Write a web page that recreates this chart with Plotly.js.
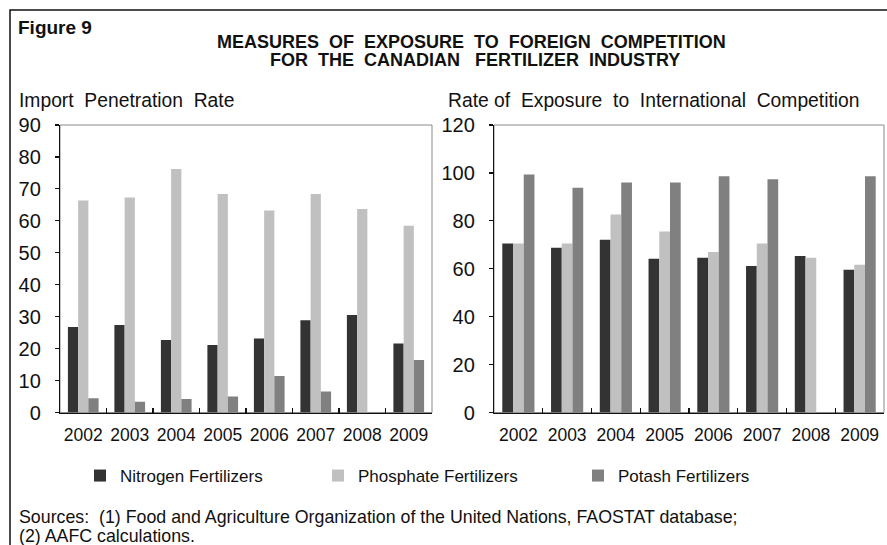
<!DOCTYPE html>
<html>
<head>
<meta charset="utf-8">
<script src="https://cdn.plot.ly/plotly-3.0.1.min.js"></script>
<style>html,body{margin:0;padding:0;background:#fff;}#chart{width:887px;height:545px;}</style>
</head>
<body>
<div id="chart"></div>
<script>
const years = ['2002','2003','2004','2005','2006','2007','2008','2009'];
const seriesNames = ['Nitrogen Fertilizers','Phosphate Fertilizers','Potash Fertilizers'];

// Import Penetration Rate (left panel)
const importNitrogen  = [26.8, 27.4, 22.7, 21.1, 23.2, 28.9, 30.5, 21.6];
const importPhosphate = [66.4, 67.3, 76.2, 68.4, 63.2, 68.4, 63.7, 58.5];
const importPotash    = [4.5, 3.4, 4.2, 5.0, 11.4, 6.6, null, 16.4];

// Rate of Exposure to International Competition (right panel)
const exposureNitrogen  = [70.5, 68.8, 72.1, 64.2, 64.6, 61.1, 65.3, 59.6];
const exposurePhosphate = [70.5, 70.5, 82.6, 75.6, 67.0, 70.5, 64.6, 61.7];
const exposurePotash    = [99.3, 93.8, 96.0, 96.0, 98.6, 97.4, null, 98.6];

const colors = ['#333333', '#c0c0c0', '#808080'];
const W = 887, H = 545;
const px = x => x / W;
const py = y => 1 - y / H;
const FONT = 'Liberation Sans, Arial, sans-serif';
const TXT = '#111';

const leftSets = [importNitrogen, importPhosphate, importPotash];
const rightSets = [exposureNitrogen, exposurePhosphate, exposurePotash];
const legendIds = ['legend', 'legend2', 'legend3'];

const traces = [];
leftSets.forEach((vals, i) => {
  traces.push({
    type: 'bar', x: years, y: vals, name: seriesNames[i],
    marker: {color: colors[i], line: {width: 0}},
    xaxis: 'x', yaxis: 'y', legend: legendIds[i], showlegend: true,
    hoverinfo: 'x+y+name'
  });
});
rightSets.forEach((vals, i) => {
  traces.push({
    type: 'bar', x: years, y: vals, name: seriesNames[i],
    marker: {color: colors[i], line: {width: 0}},
    xaxis: 'x2', yaxis: 'y2', showlegend: false,
    hoverinfo: 'x+y+name'
  });
});

const yDom = [py(412.5), py(125)];
const xAxisCommon = {
  type: 'category', showline: true, linecolor: '#111', linewidth: 1.2,
  ticks: 'inside', tickson: 'boundaries', ticklen: 5, tickcolor: '#111', tickwidth: 1.2,
  showgrid: false, zeroline: false, tickangle: 0,
  tickfont: {family: FONT, size: 17.5, color: TXT}, fixedrange: true,
  ticklabelstandoff: 6
};
const yAxisCommon = {
  showline: true, linecolor: '#111', linewidth: 1.2,
  ticks: 'outside', ticklen: 4, tickcolor: '#111', tickwidth: 1.2,
  showgrid: false, zeroline: false,
  tickfont: {family: FONT, size: 20, color: TXT}, fixedrange: true,
  ticklabelstandoff: 10
};

const legendCommon = {
  orientation: 'h', xanchor: 'left', yanchor: 'middle',
  font: {family: FONT, size: 17, color: TXT}, bgcolor: 'rgba(0,0,0,0)',
  itemclick: false, itemdoubleclick: false
};

const layout = {
  width: W, height: H,
  margin: {l: 0, r: 0, t: 0, b: 0},
  paper_bgcolor: '#fff', plot_bgcolor: '#fff',
  barmode: 'group', bargap: 0.34, bargroupgap: 0,
  xaxis: Object.assign({}, xAxisCommon, {domain: [px(60), px(432)], anchor: 'y'}),
  yaxis: Object.assign({}, yAxisCommon, {domain: yDom, anchor: 'x', range: [0, 90], dtick: 10}),
  xaxis2: Object.assign({}, xAxisCommon, {domain: [px(494), px(884)], anchor: 'y2'}),
  yaxis2: Object.assign({}, yAxisCommon, {domain: yDom, anchor: 'x2', range: [0, 120], dtick: 20}),
  legend: Object.assign({}, legendCommon, {x: px(80), y: py(476)}),
  legend2: Object.assign({}, legendCommon, {x: px(318), y: py(476)}),
  legend3: Object.assign({}, legendCommon, {x: px(578), y: py(476)}),
  shapes: [
    {type: 'rect', xref: 'paper', yref: 'paper', x0: px(10), x1: 1.02, y0: -0.05, y1: py(10),
     line: {color: '#111', width: 1.5}, fillcolor: 'rgba(0,0,0,0)', layer: 'below'},
    {type: 'rect', xref: 'x domain', yref: 'y domain', x0: 0, x1: 1, y0: 0, y1: 1,
     line: {color: '#8a8a8a', width: 1}, layer: 'below'},
    {type: 'rect', xref: 'x2 domain', yref: 'y2 domain', x0: 0, x1: 1, y0: 0, y1: 1,
     line: {color: '#8a8a8a', width: 1}, layer: 'below'}
  ],
  annotations: [
    {text: '<b>Figure 9</b>', xref: 'paper', yref: 'paper', x: px(16), y: py(27),
     xanchor: 'left', yanchor: 'middle', showarrow: false, font: {family: FONT, size: 19, color: TXT}},
    {text: '<b>MEASURES  OF  EXPOSURE  TO  FOREIGN  COMPETITION</b>', xref: 'paper', yref: 'paper',
     x: px(471), y: py(42), xanchor: 'center', yanchor: 'middle', showarrow: false,
     font: {family: FONT, size: 18, color: TXT}},
    {text: '<b>FOR  THE  CANADIAN   FERTILIZER  INDUSTRY</b>', xref: 'paper', yref: 'paper',
     x: px(475), y: py(60), xanchor: 'center', yanchor: 'middle', showarrow: false,
     font: {family: FONT, size: 18, color: TXT}},
    {text: 'Import  Penetration  Rate', xref: 'paper', yref: 'paper', x: px(17), y: py(101),
     xanchor: 'left', yanchor: 'middle', showarrow: false, font: {family: FONT, size: 19.3, color: TXT}},
    {text: 'Rate of  Exposure  to  International  Competition', xref: 'paper', yref: 'paper', x: px(446), y: py(101),
     xanchor: 'left', yanchor: 'middle', showarrow: false, font: {family: FONT, size: 19.3, color: TXT}},
    {text: 'Sources:  (1) Food and Agriculture Organization of the United Nations, FAOSTAT database;', xref: 'paper', yref: 'paper',
     x: px(17), y: py(517), xanchor: 'left', yanchor: 'middle', showarrow: false, font: {family: FONT, size: 17.8, color: TXT}},
    {text: '(2) AAFC calculations.', xref: 'paper', yref: 'paper',
     x: px(17), y: py(536), xanchor: 'left', yanchor: 'middle', showarrow: false, font: {family: FONT, size: 17.8, color: TXT}}
  ]
};

Plotly.newPlot('chart', traces, layout, {displayModeBar: false, staticPlot: true});
</script>
</body>
</html>
